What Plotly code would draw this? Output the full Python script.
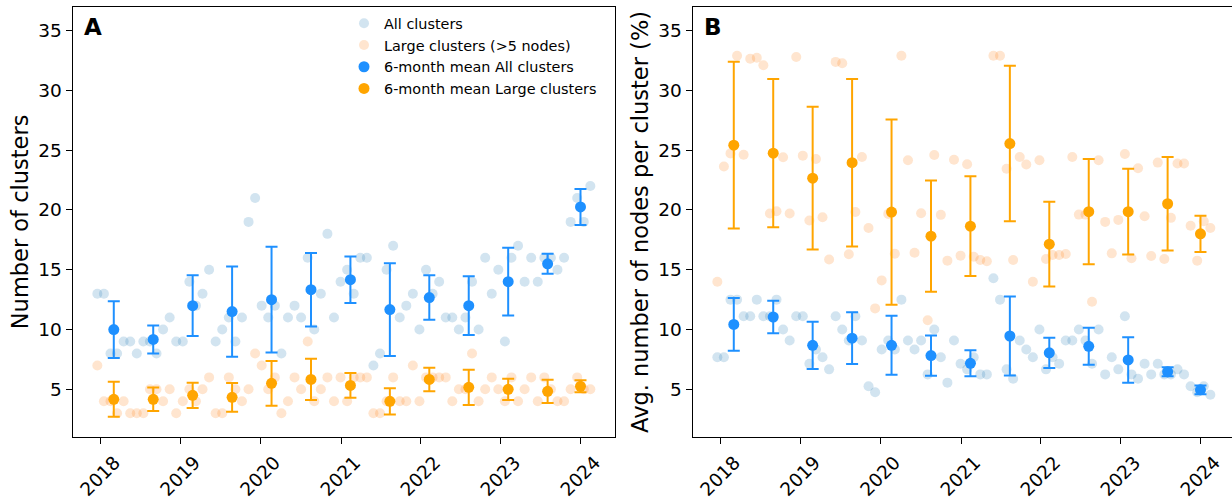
import numpy as np
import pandas as pd
import plotly.graph_objects as go

# ---------------- data ----------------
start_date = "2017-12-16"
n_periods = 76            # one value every 30 days
bin_size = 6              # "6-month" groups of six periods

all_counts = [13, 13, 8, 8, 9, 9, 8, 9, 9, 8, 10, 11, 9, 9, 14, 12, 13, 15,
              9, 10, 11, 9, 11, 19, 21, 12, 11, 12, 8, 11, 12, 11, 16, 10, 13, 18,
              11, 14, 15, 13, 16, 16, 7, 8, 15, 17, 11, 12, 13, 10, 15, 13, 14, 11,
              11, 10, 11, 14, 10, 16, 13, 15, 9, 16, 17, 14, 16, 14, 16, 16, 15, 16,
              19, 21, 19, 22]
large_counts = [7, 4, 4, 3, 4, 3, 3, 3, 5, 5, 4, 5, 3, 4, 5, 4, 5, 6,
                3, 3, 6, 5, 4, 5, 8, 7, 5, 6, 3, 4, 6, 5, 9, 4, 5, 6,
                4, 6, 4, 6, 6, 6, 3, 3, 4, 6, 4, 4, 7, 4, 6, 6, 6, 6,
                4, 5, 5, 8, 4, 5, 6, 5, 4, 6, 4, 5, 6, 4, 6, 5, 4, 4,
                5, 6, 5, 5]
all_size = [7.69, 7.69, 12.5, 12.5, 11.11, 11.11, 12.5, 11.11, 11.11, 12.5, 10.0, 9.09,
            11.11, 11.11, 7.14, 8.33, 7.69, 6.67, 11.11, 10.0, 9.09, 11.11, 9.09, 5.26,
            4.76, 8.33, 9.09, 8.33, 12.5, 9.09, 8.33, 9.09, 6.25, 10.0, 7.69, 5.56,
            9.09, 7.14, 6.67, 7.69, 6.25, 6.25, 14.29, 12.5, 6.67, 5.88, 9.09, 8.33,
            7.69, 10.0, 6.67, 7.69, 7.14, 9.09, 9.09, 10.0, 9.09, 7.14, 10.0, 6.25,
            7.69, 6.67, 11.11, 6.25, 5.88, 7.14, 6.25, 7.14, 6.25, 6.25, 6.67, 6.25,
            5.26, 4.76, 5.26, 4.55]
large_size = [14.0, 23.63, 24.73, 32.9, 24.62, 32.65, 32.73, 32.1, 19.7, 19.89, 24.4, 19.7,
              32.79, 24.54, 19.12, 24.26, 19.39, 15.85, 32.38, 32.27, 16.29, 19.83, 24.43, 18.49,
              11.77, 14.11, 19.67, 16.34, 32.9, 24.15, 16.42, 19.72, 10.78, 24.59, 19.59, 15.76,
              24.2, 16.18, 23.82, 16.09, 15.82, 15.71, 32.9, 32.9, 23.44, 15.82, 24.43, 23.8,
              14.0, 24.15, 15.9, 16.23, 16.23, 16.31, 24.43, 19.61, 19.61, 12.33, 24.15, 19.0,
              16.37, 19.17, 24.68, 15.96, 23.49, 19.48, 16.15, 23.96, 15.9, 19.34, 23.88, 23.88,
              18.68, 15.76, 19.06, 18.49]

mean_all = [10.0, 9.17, 12.0, 11.5, 12.5, 13.33, 14.17, 11.67, 12.67, 12.0, 14.0, 15.5, 20.25]
std_all = [2.37, 1.17, 2.53, 3.78, 4.42, 3.08, 1.94, 3.88, 1.86, 2.45, 2.83, 0.84, 1.5]
mean_large = [4.17, 4.17, 4.5, 4.33, 5.5, 5.83, 5.33, 4.0, 5.83, 5.17, 5.0, 4.83, 5.25]
std_large = [1.47, 0.98, 1.05, 1.21, 1.87, 1.72, 1.03, 1.10, 0.98, 1.47, 0.89, 0.98, 0.5]
mean_all_size = [10.43, 11.05, 8.68, 9.28, 8.68, 7.82, 7.18, 9.46, 8.05, 8.60, 7.46, 6.47, 4.96]
std_all_size = [2.21, 1.35, 1.97, 2.17, 2.47, 1.69, 1.09, 3.30, 1.26, 1.55, 1.90, 0.37, 0.36]
mean_large_size = [25.42, 24.75, 22.66, 23.95, 19.82, 17.81, 18.64, 25.55, 17.14, 19.86, 19.86, 20.52, 18.0]
std_large_size = [6.97, 6.20, 5.97, 7.01, 7.74, 4.65, 4.17, 6.50, 3.55, 4.40, 3.59, 3.90, 1.51]

year_ticks = ["2018-01-01", "2019-01-01", "2020-01-01", "2021-01-01",
              "2022-01-01", "2023-01-01", "2024-01-01"]
year_labels = ["2018", "2019", "2020", "2021", "2022", "2023", "2024"]

# ---------------- positions ----------------
dates = pd.date_range(start_date, periods=n_periods, freq="30D")
bin_dates = pd.Series(dates).groupby(np.arange(n_periods) // bin_size).mean()

LIGHT_BLUE = "rgba(31,119,180,0.2)"
LIGHT_ORANGE = "rgba(255,127,14,0.2)"
BLUE = "#1E90FF"
ORANGE = "#FFA500"
FONT = "DejaVu Sans"

W, H = 1232, 500
fig = go.Figure()


def add_panel(xa, ya, light_all, light_large, m_all, s_all, m_large, s_large, legend):
    fig.add_trace(go.Scatter(x=dates, y=light_all, mode="markers", name="All clusters",
                             marker=dict(size=10, color=LIGHT_BLUE, line=dict(width=0)),
                             xaxis=xa, yaxis=ya, showlegend=legend))
    fig.add_trace(go.Scatter(x=dates, y=light_large, mode="markers", name="Large clusters (>5 nodes)",
                             marker=dict(size=10, color=LIGHT_ORANGE, line=dict(width=0)),
                             xaxis=xa, yaxis=ya, showlegend=legend))
    fig.add_trace(go.Scatter(x=bin_dates, y=m_all, mode="markers", name="6-month mean All clusters",
                             marker=dict(size=11, color=BLUE, line=dict(width=0)),
                             error_y=dict(type="data", array=s_all, color=BLUE, thickness=2, width=6),
                             xaxis=xa, yaxis=ya, showlegend=legend))
    fig.add_trace(go.Scatter(x=bin_dates, y=m_large, mode="markers", name="6-month mean Large clusters",
                             marker=dict(size=11, color=ORANGE, line=dict(width=0)),
                             error_y=dict(type="data", array=s_large, color=ORANGE, thickness=2, width=6),
                             xaxis=xa, yaxis=ya, showlegend=legend))


add_panel("x", "y", all_counts, large_counts, mean_all, std_all, mean_large, std_large, True)
add_panel("x2", "y2", all_size, large_size, mean_all_size, std_all_size,
          mean_large_size, std_large_size, False)

ydom = [(H - 440.7) / H, (H - 6.7) / H]
common_x = dict(type="date", tickvals=year_ticks, ticktext=year_labels, tickangle=-45,
                ticks="outside", ticklen=6, tickwidth=1.4, tickcolor="black",
                showline=True, linewidth=1.4, linecolor="black", mirror=True,
                showgrid=False, zeroline=False, ticklabelshift=14,
                tickfont=dict(family=FONT, size=18.5, color="black"))
common_y = dict(range=[1, 37], tick0=0, dtick=5, ticks="outside", ticklen=6, tickwidth=1.4,
                tickcolor="black", showline=True, linewidth=1.4, linecolor="black",
                showgrid=False, zeroline=False, domain=ydom,
                tickfont=dict(family=FONT, size=18.5, color="black"))

fig.update_layout(
    width=W, height=H, margin=dict(l=0, r=0, t=0, b=0, pad=0),
    paper_bgcolor="white", plot_bgcolor="white",
    font=dict(family=FONT, color="black"),
    xaxis=dict(domain=[72.7 / W, 615 / W], range=["2017-08-25 12:00", "2024-06-04 12:00"],
               anchor="y", **common_x),
    yaxis=dict(anchor="x", mirror=True,
               title=dict(text="Number of clusters", font=dict(family=FONT, size=22.5), standoff=3),
               **common_y),
    xaxis2=dict(domain=[692.7 / W, 1.0], range=["2017-08-25 12:00", "2024-05-21 20:00"],
                anchor="y2", **common_x),
    yaxis2=dict(anchor="x2", mirror=False,
                title=dict(text="Avg. number of nodes per cluster (%)", font=dict(family=FONT, size=22.5),
                           standoff=3),
                **common_y),
    legend=dict(x=344 / W, y=0.985, xanchor="left", yanchor="top", bgcolor="rgba(0,0,0,0)",
                borderwidth=0, font=dict(family=FONT, size=14.4, color="black")),
    annotations=[
        dict(text="<b>A</b>", x=82 / W, y=1 - 12 / H, xref="paper", yref="paper",
             xanchor="left", yanchor="top", showarrow=False, font=dict(family=FONT, size=23)),
        dict(text="<b>B</b>", x=702 / W, y=1 - 12 / H, xref="paper", yref="paper",
             xanchor="left", yanchor="top", showarrow=False, font=dict(family=FONT, size=23)),
    ],
)

fig.write_html("out.html", config={"displayModeBar": False},
               post_script="document.body.style.margin='0';document.body.style.overflow='hidden';")
